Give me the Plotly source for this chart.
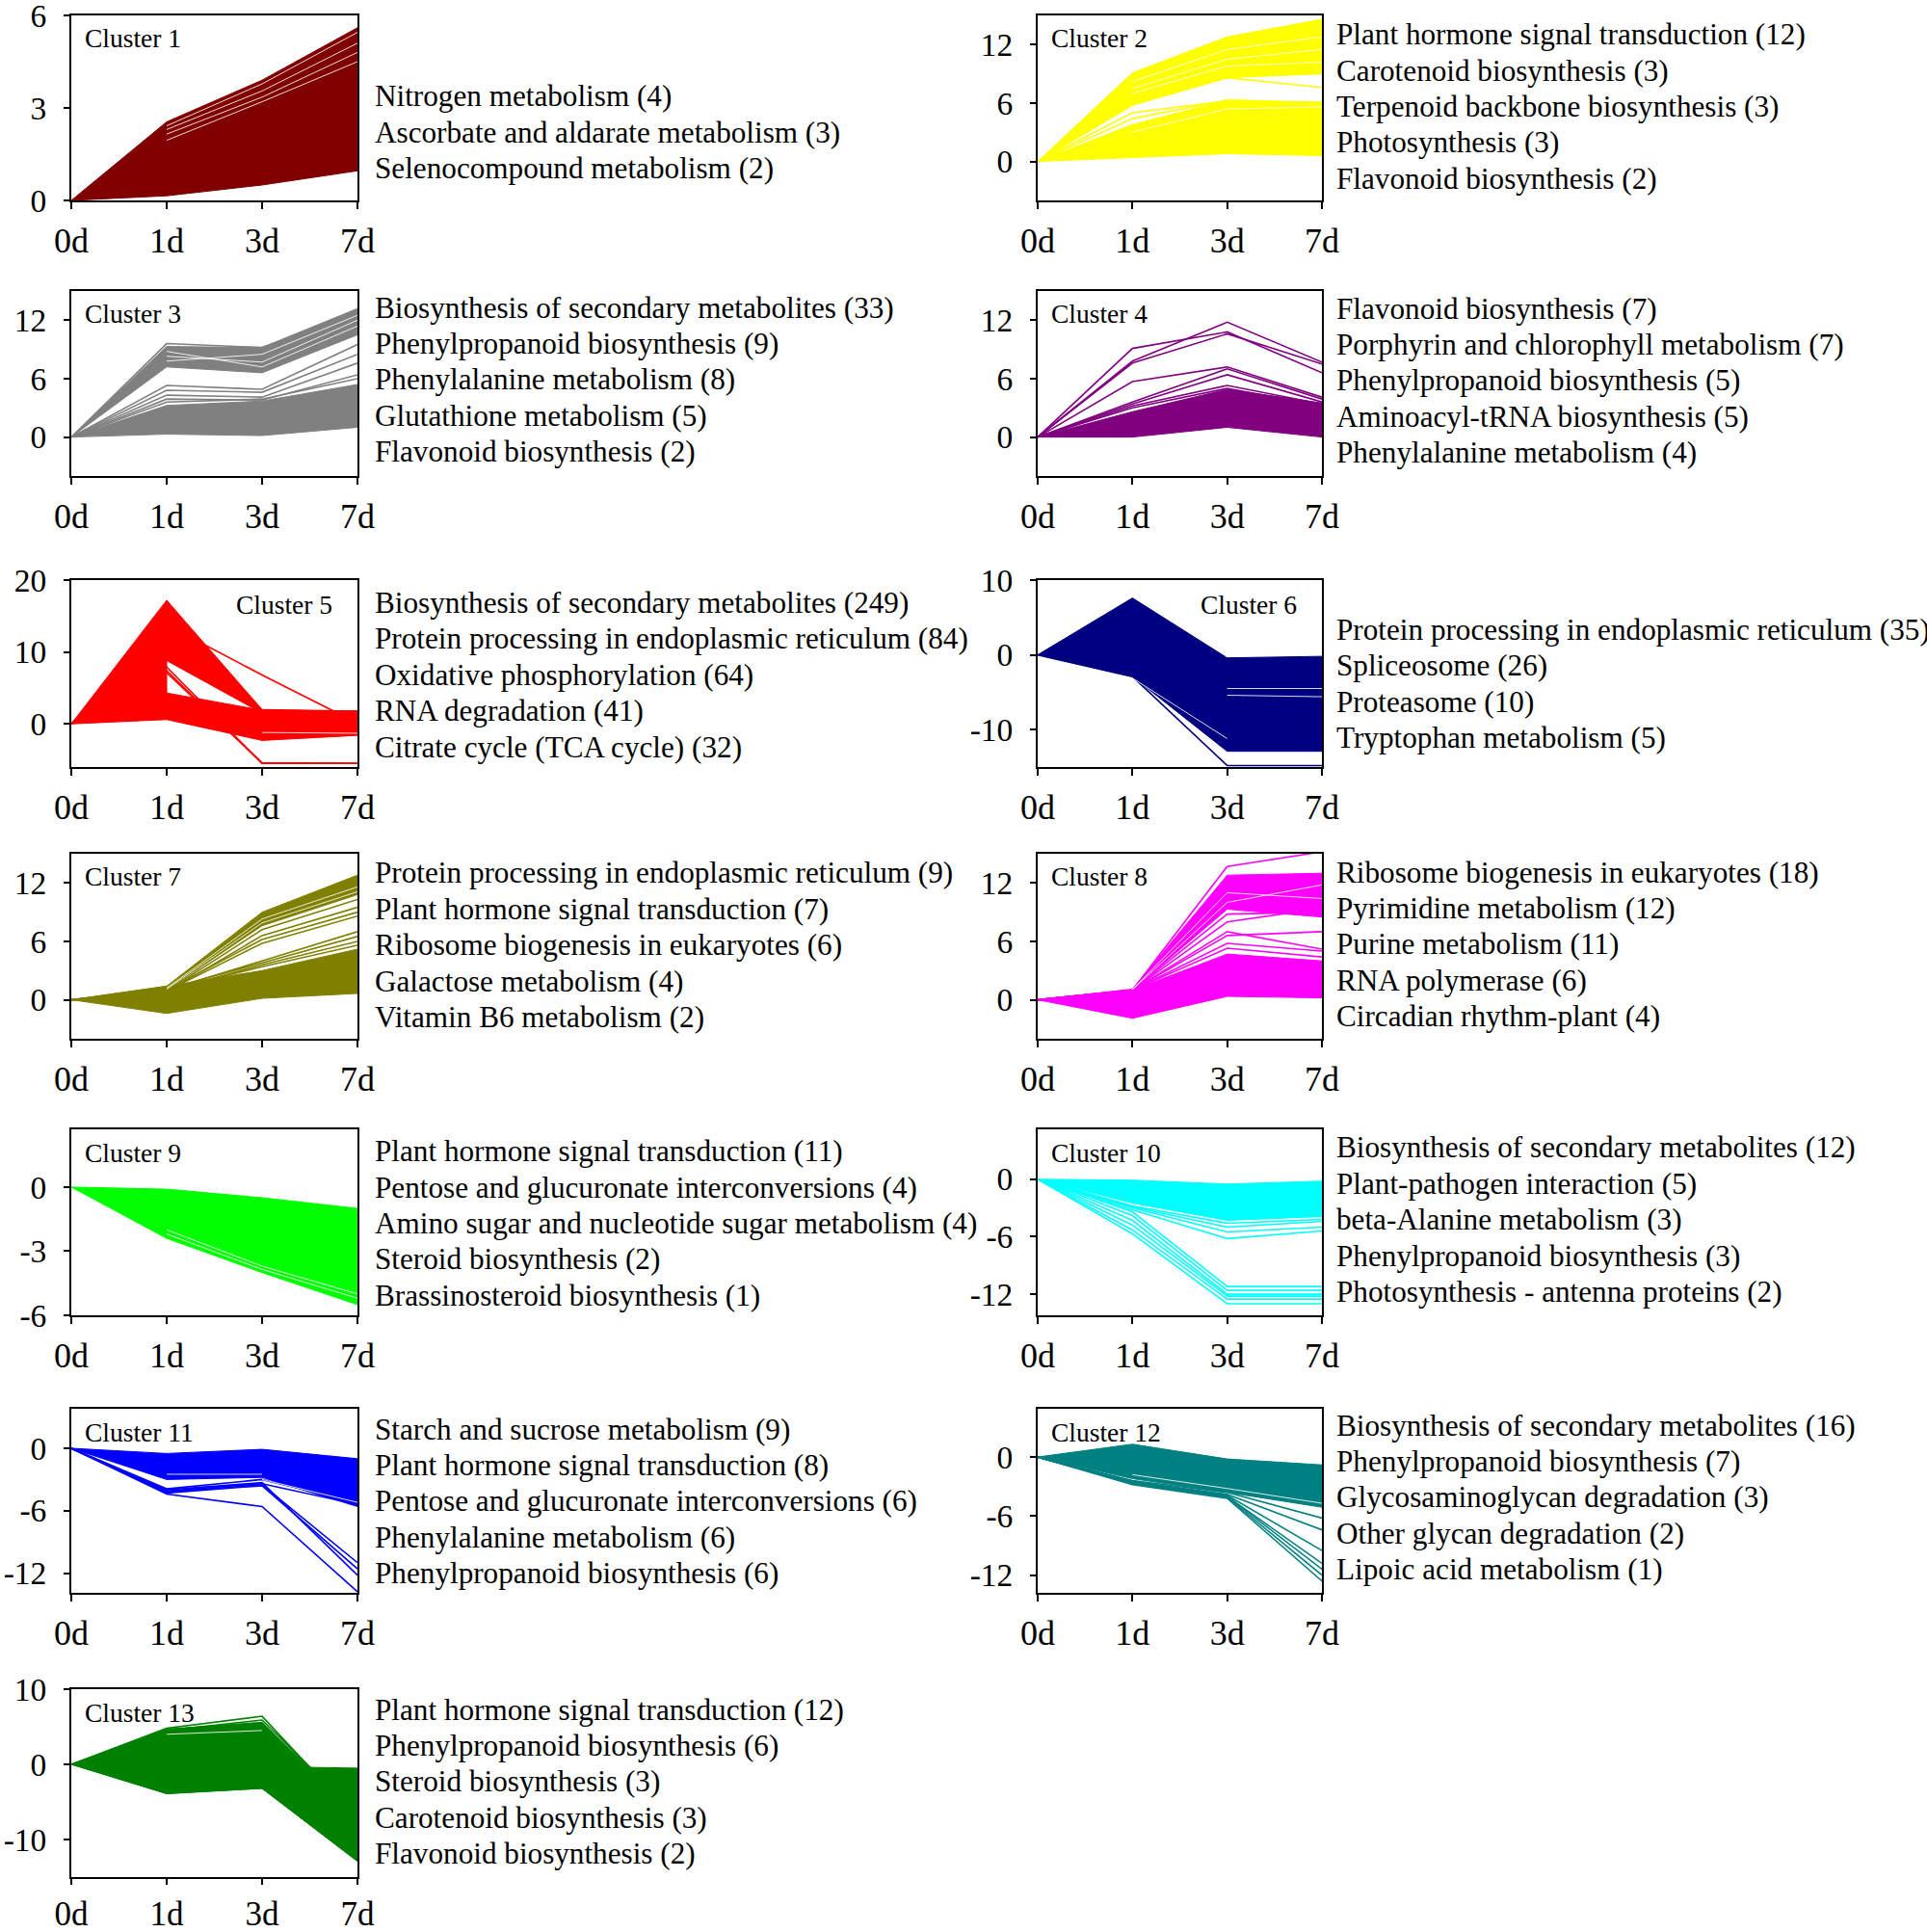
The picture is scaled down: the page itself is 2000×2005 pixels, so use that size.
import plotly.graph_objects as go

# time points on the x axis
days = ["0d", "1d", "3d", "7d"]

# each band is (lower envelope, upper envelope) of the dense bundle of profiles,
# lines are single profiles outside the bundle, gaps are the thin white streaks
c1_bands = [([0, 0.15, 0.5, 0.96], [0, 2.55, 3.9, 5.6])]
c1_lines = []
c1_gaps = [[None, 2.42, 3.78, 5.45], [None, 2.3, 3.55, 5.1], [None, 2.15, 3.35, 4.8],
           [None, 1.95, 3.2, 4.5]]
c1_terms = ["Nitrogen metabolism", "Ascorbate and aldarate metabolism", "Selenocompound metabolism"]
c1_counts = [4, 3, 2]

c2_bands = [([0, 0.4, 0.8, 0.6], [0, 3.8, 6.3, 6.1]),
            ([0, 5.9, 8.6, 9.0], [0, 9.1, 12.8, 14.6])]
c2_lines = [[0, 5.8, 8.6, 7.6], [0, 4.4, 6.3, 6.0], [0, 5.0, 6.2, 5.9]]
c2_gaps = [[None, 7.5, 10.5, 11.5], [None, 7.0, 9.8, 10.2], [None, 8.2, 11.5, 12.8],
           [None, 3.0, 5.4, 5.6]]
c2_terms = ["Plant hormone signal transduction", "Carotenoid biosynthesis",
            "Terpenoid backbone biosynthesis", "Photosynthesis", "Flavonoid biosynthesis"]
c2_counts = [12, 3, 3, 3, 2]

c3_bands = [([0, 0.3, 0.15, 1.0], [0, 3.25, 3.7, 5.4]),
            ([0, 7.2, 6.6, 10.5], [0, 9.3, 9.2, 13.2])]
c3_lines = [[0, 9.6, 9.2, 12.7], [0, 5.3, 4.9, 9.5], [0, 4.8, 4.6, 8.5], [0, 4.3, 4.1, 7.6],
            [0, 3.9, 3.8, 6.4], [0, 3.6, 3.9, 6.0]]
c3_gaps = [[None, 8.3, 7.7, 12.0], [None, 7.8, 8.5, 12.5], [None, 8.8, 7.2, 11.4]]
c3_terms = ["Biosynthesis of secondary metabolites", "Phenylpropanoid biosynthesis",
            "Phenylalanine metabolism", "Glutathione metabolism", "Flavonoid biosynthesis"]
c3_counts = [33, 9, 8, 5, 2]

c4_bands = [([0, 0.0, 1.0, 0.0], [0, 2.6, 4.9, 3.5])]
c4_lines = [[0, 9.1, 10.8, 6.6], [0, 7.8, 11.8, 7.7], [0, 7.6, 10.6, 7.5], [0, 5.7, 7.2, 4.1],
            [0, 3.6, 7.0, 3.9], [0, 3.4, 6.4, 3.6], [0, 3.2, 5.3, 3.4], [0, 3.0, 5.0, 3.2]]
c4_gaps = []
c4_terms = ["Flavonoid biosynthesis", "Porphyrin and chlorophyll metabolism",
            "Phenylpropanoid biosynthesis", "Aminoacyl-tRNA biosynthesis", "Phenylalanine metabolism"]
c4_counts = [7, 7, 5, 5, 4]

c5_bands = [([0, 0.6, -2.3, -1.6], [0, 4.3, 1.9, 1.8]),
            ([0, 8.8, 1.5, 1.0], [0, 17.2, 2.0, 1.8]),
            ([0, 4.3, None, None], [0, 8.8, None, None])]
c5_lines = [[0, 13.8, 6.8, 0.1], [0, 7.9, -5.5, -5.5], [0, 7.4, -5.5, -5.5], [0, 7.1, -5.4, -5.5]]
c5_gaps = [[None, None, -1.2, -1.3]]
c5_terms = ["Biosynthesis of secondary metabolites", "Protein processing in endoplasmic reticulum",
            "Oxidative phosphorylation", "RNA degradation", "Citrate cycle (TCA cycle)"]
c5_counts = [249, 84, 64, 41, 32]

c6_bands = [([0, -2.9, -12.9, -12.9], [0, 7.6, -0.4, -0.2])]
c6_lines = [[0, -2.9, -14.8, -14.8]]
c6_gaps = [[None, None, -4.5, -4.5], [None, None, -5.4, -5.6], [None, -3.1, -11.2, None]]
c6_terms = ["Protein processing in endoplasmic reticulum", "Spliceosome", "Proteasome",
            "Tryptophan metabolism"]
c6_counts = [35, 26, 10, 5]

c7_bands = [([0, -1.4, 0.15, 0.65], [0, 1.4, 3.0, 5.2]),
            ([0, 1.0, 7.6, 10.8], [0, 1.4, 9.0, 12.8])]
c7_lines = [[0, 0.9, 7.2, 10.3], [0, 0.8, 6.6, 9.5], [0, 1.0, 6.2, 9.0], [0, 0.9, 5.8, 8.6],
            [0, 1.0, 4.0, 7.0], [0, 1.1, 3.8, 6.5], [0, 0.9, 3.6, 6.0], [0, 1.0, 3.4, 5.6]]
c7_gaps = [[None, 1.2, 8.3, 11.6], [None, 1.1, 7.9, 11.1]]
c7_terms = ["Protein processing in endoplasmic reticulum", "Plant hormone signal transduction",
            "Ribosome biogenesis in eukaryotes", "Galactose metabolism", "Vitamin B6 metabolism"]
c7_counts = [9, 7, 6, 4, 2]

c8_bands = [([0, -1.9, 0.35, 0.2], [0, 1.0, 4.7, 4.0]),
            ([0, 1.0, 9.3, 8.5], [0, 1.1, 12.8, 13.0])]
c8_lines = [[0, 1.0, 13.7, 15.2], [0, 1.0, 8.8, 9.0], [0, 1.0, 8.0, 9.4], [0, 1.0, 7.0, 5.2],
            [0, 1.0, 6.6, 7.0], [0, 1.0, 5.8, 5.0], [0, 1.0, 5.3, 4.4]]
c8_gaps = [[None, 1.05, 11.0, 10.4], [None, 1.05, 10.0, 11.8]]
c8_terms = ["Ribosome biogenesis in eukaryotes", "Pyrimidine metabolism", "Purine metabolism",
            "RNA polymerase", "Circadian rhythm-plant"]
c8_counts = [18, 12, 11, 6, 4]

c9_bands = [([0, -2.4, -4.0, -5.5], [0, -0.1, -0.5, -1.0])]
c9_lines = []
c9_gaps = [[None, -2.0, -3.7, -5.0], [None, -2.2, -3.85, -5.2]]
c9_terms = ["Plant hormone signal transduction", "Pentose and glucuronate interconversions",
            "Amino sugar and nucleotide sugar metabolism", "Steroid biosynthesis",
            "Brassinosteroid biosynthesis"]
c9_counts = [11, 4, 4, 2, 1]

c10_bands = [([0, -2.5, -4.3, -3.9], [0, -0.1, -0.5, -0.2])]
c10_lines = [[0, -2.8, -4.6, -4.2], [0, -2.9, -5.0, -4.4], [0, -3.0, -5.5, -5.0], [0, -3.2, -6.2, -5.4],
             [0, -3.4, -11.2, -11.2], [0, -3.8, -11.6, -11.6], [0, -4.3, -12.0, -12.0],
             [0, -4.8, -12.2, -12.2], [0, -5.3, -12.5, -12.5], [0, -5.7, -13.0, -13.0]]
c10_gaps = []
c10_terms = ["Biosynthesis of secondary metabolites", "Plant-pathogen interaction",
             "beta-Alanine metabolism", "Phenylpropanoid biosynthesis",
             "Photosynthesis - antenna proteins"]
c10_counts = [12, 5, 3, 3, 2]

c11_bands = [([0, -3.0, -2.8, -5.6], [0, -0.5, -0.1, -1.0])]
c11_lines = [[0, -4.2, -3.5, -11.0], [0, -4.3, -3.6, -11.6], [0, -4.0, -3.3, -12.2],
             [0, -4.4, -5.6, -13.8], [0, -4.1, -3.4, -5.4], [0, -3.9, -3.0, -5.2]]
c11_gaps = [[None, -2.5, -2.5, None], [None, None, -3.0, -5.2]]
c11_terms = ["Starch and sucrose metabolism", "Plant hormone signal transduction",
             "Pentose and glucuronate interconversions", "Phenylalanine metabolism",
             "Phenylpropanoid biosynthesis"]
c11_counts = [9, 8, 6, 6, 6]

c12_bands = [([0, -2.2, -3.6, -5.1], [0, 1.3, -0.2, -0.8])]
c12_lines = [[0, -2.4, -3.6, -6.2], [0, -2.5, -3.8, -7.4], [0, -2.5, -3.9, -9.5],
             [0, -2.6, -4.0, -10.8], [0, -2.6, -4.0, -11.4], [0, -2.7, -4.1, -12.0],
             [0, -2.8, -4.2, -12.6]]
c12_gaps = [[None, -1.8, -3.2, -4.7]]
c12_terms = ["Biosynthesis of secondary metabolites", "Phenylpropanoid biosynthesis",
             "Glycosaminoglycan degradation", "Other glycan degradation", "Lipoic acid metabolism"]
c12_counts = [16, 7, 3, 2, 1]

c13_bands = [([0, -3.9, -3.2, -12.9], [0, 4.7, 5.6, -6.7]),
             ([0, -3.9, -3.2, -12.9], [0, 0.0, -0.3, -0.5])]
c13_lines = [[0, 4.8, 6.4, -7.2], [0, 4.5, 5.9, -6.6]]
c13_gaps = [[None, 4.0, 4.5, None]]
c13_terms = ["Plant hormone signal transduction", "Phenylpropanoid biosynthesis",
             "Steroid biosynthesis", "Carotenoid biosynthesis", "Flavonoid biosynthesis"]
c13_counts = [12, 6, 3, 3, 2]

colors = ["#800000", "#FFFF00", "#808080", "#800080", "#FF0000", "#000080", "#808000",
          "#FF00FF", "#00FF00", "#00FFFF", "#0000FF", "#008080", "#008000"]
y_ranges = [[0, 6], [-4, 15], [-4, 15], [-4, 15], [-6, 20], [-15, 10], [-4, 15],
            [-4, 15], [-6, 2.7], [-14.2, 5.2], [-13.9, 3.8], [-13.8, 4.9], [-15, 10]]
y_ticks = [[0, 3, 6], [0, 6, 12], [0, 6, 12], [0, 6, 12], [0, 10, 20], [-10, 0, 10],
           [0, 6, 12], [0, 6, 12], [-6, -3, 0], [-12, -6, 0], [-12, -6, 0], [-12, -6, 0],
           [-10, 0, 10]]

clusters = [
    (c1_bands, c1_lines, c1_gaps, c1_terms, c1_counts),
    (c2_bands, c2_lines, c2_gaps, c2_terms, c2_counts),
    (c3_bands, c3_lines, c3_gaps, c3_terms, c3_counts),
    (c4_bands, c4_lines, c4_gaps, c4_terms, c4_counts),
    (c5_bands, c5_lines, c5_gaps, c5_terms, c5_counts),
    (c6_bands, c6_lines, c6_gaps, c6_terms, c6_counts),
    (c7_bands, c7_lines, c7_gaps, c7_terms, c7_counts),
    (c8_bands, c8_lines, c8_gaps, c8_terms, c8_counts),
    (c9_bands, c9_lines, c9_gaps, c9_terms, c9_counts),
    (c10_bands, c10_lines, c10_gaps, c10_terms, c10_counts),
    (c11_bands, c11_lines, c11_gaps, c11_terms, c11_counts),
    (c12_bands, c12_lines, c12_gaps, c12_terms, c12_counts),
    (c13_bands, c13_lines, c13_gaps, c13_terms, c13_counts),
]

# page geometry in pixels (the page body margin is removed after drawing)
W, H = 2000, 2005
col_x = [(74, 371), (1077, 1372)]
row_y = [(16, 208), (302, 494), (602, 796), (886, 1078), (1172, 1365), (1462, 1653), (1753, 1948)]
text_x = [387, 1385]
text_top = [99.6, 35.7, 319, 320, 625.4, 653.5, 906, 905, 1194.6, 1190.8, 1483, 1479, 1774]
line_step = 37.4
font = "Liberation Serif"


def px(x):
    return x / W


def py(y):
    return 1 - y / H


def polygon(lo, hi):
    upper = [(x, v) for x, v in zip(xs, hi) if v is not None]
    lower = [(x, v) for x, v in zip(xs, lo) if v is not None][::-1]
    pts = upper + lower
    return [p[0] for p in pts], [p[1] for p in pts]


fig = go.Figure()
xs = list(range(len(days)))
annotations = []
layout_axes = {}

for i, (bands, lines, gaps, terms, counts) in enumerate(clusters):
    n = i + 1
    xa = "x" if n == 1 else f"x{n}"
    ya = "y" if n == 1 else f"y{n}"
    color = colors[i]
    for lo, hi in bands:
        bx, by = polygon(lo, hi)
        fig.add_trace(go.Scatter(x=bx, y=by, mode="lines", fill="toself", fillcolor=color,
                                 line=dict(color=color, width=1),
                                 xaxis=xa, yaxis=ya, hoverinfo="skip", showlegend=False))
    for prof in lines:
        fig.add_trace(go.Scatter(x=xs, y=prof, mode="lines", line=dict(color=color, width=1.6),
                                 xaxis=xa, yaxis=ya, showlegend=False))
    for prof in gaps:
        fig.add_trace(go.Scatter(x=xs, y=prof, mode="lines", line=dict(color="white", width=1),
                                 opacity=0.85, xaxis=xa, yaxis=ya, hoverinfo="skip",
                                 showlegend=False))

    row, col = divmod(i, 2)
    x0, x1 = col_x[col]
    y0, y1 = row_y[row]
    last_row = row == len(row_y) - 1
    suffix = "" if n == 1 else str(n)
    layout_axes[f"xaxis{suffix}"] = dict(
        domain=[px(x0), px(x1)], anchor=ya, range=[0, len(days) - 1],
        tickvals=xs, ticktext=days, showline=True, linecolor="black", linewidth=2,
        mirror=True, ticks="outside", ticklen=6 if last_row else 7, tickwidth=2, tickcolor="black",
        tickfont=dict(family=font, size=35 if last_row else 36, color="black"),
        ticklabelstandoff=0 if last_row else 2, ticklabeloverflow="allow",
        showgrid=False, zeroline=False, automargin=False)
    layout_axes[f"yaxis{suffix}"] = dict(
        domain=[py(y1), py(y0)], anchor=xa, range=y_ranges[i],
        tickvals=y_ticks[i], ticktext=[str(v) for v in y_ticks[i]],
        showline=True, linecolor="black", linewidth=2, mirror=True,
        ticks="outside", ticklen=6, tickwidth=2, tickcolor="black",
        tickfont=dict(family=font, size=33.5, color="black"), ticklabelstandoff=11,
        ticklabeloverflow="allow", showgrid=False, zeroline=False, automargin=False)

    # cluster name inside the box
    if n in (5, 6):
        annotations.append(dict(x=px(x1 - 24), y=py(y0 + 25), xref="paper", yref="paper",
                                text=f"Cluster {n}", showarrow=False, xanchor="right",
                                yanchor="middle", font=dict(family=font, size=27.5, color="black")))
    else:
        annotations.append(dict(x=px(x0 + 12), y=py(y0 + 24), xref="paper", yref="paper",
                                text=f"Cluster {n}", showarrow=False, xanchor="left",
                                yanchor="middle", font=dict(family=font, size=27.5, color="black")))

    # enriched pathways listed to the right
    for k, (term, cnt) in enumerate(zip(terms, counts)):
        annotations.append(dict(x=px(text_x[col]), y=py(text_top[i] + k * line_step),
                                xref="paper", yref="paper", text=f"{term} ({cnt})",
                                showarrow=False, xanchor="left", yanchor="middle",
                                font=dict(family=font, size=31.2, color="black")))

fig.update_layout(width=W, height=H, margin=dict(l=0, r=0, t=0, b=0, autoexpand=False),
                  paper_bgcolor="white", plot_bgcolor="white",
                  annotations=annotations, showlegend=False, **layout_axes)

fig.write_html("out.html", config={"displayModeBar": False},
               post_script="document.body.style.margin = '0px';")
